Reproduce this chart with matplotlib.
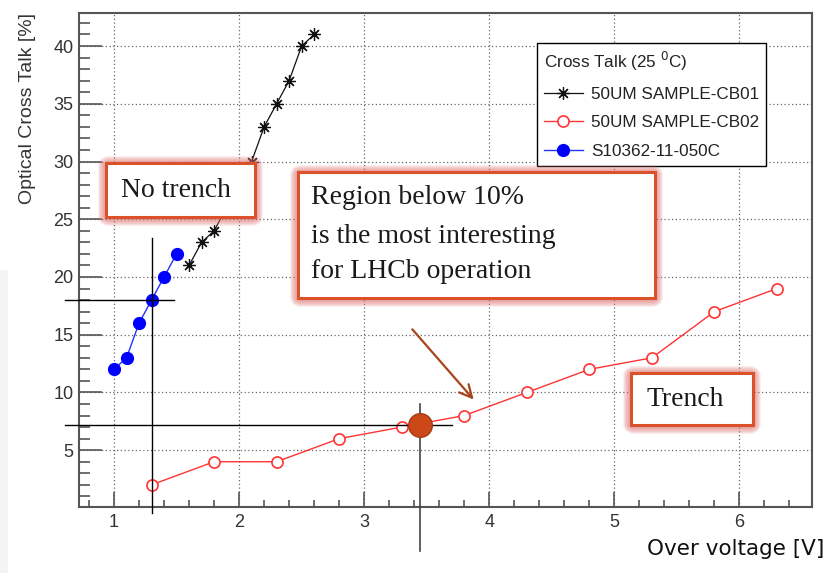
import matplotlib
matplotlib.use("Agg")
import matplotlib.pyplot as plt
from matplotlib.patches import FancyBboxPatch, Rectangle
from matplotlib.ticker import MultipleLocator

# ---- data -------------------------------------------------------------
cb01_voltage = [1.6, 1.7, 1.8, 1.9, 2.0, 2.1, 2.2, 2.3, 2.4, 2.5, 2.6]
cb01_crosstalk = [21, 23, 24, 26, 28, 30, 33, 35, 37, 40, 41]

cb02_voltage = [1.3, 1.8, 2.3, 2.8, 3.3, 3.8, 4.3, 4.8, 5.3, 5.8, 6.3]
cb02_crosstalk = [2, 4, 4, 6, 7, 8, 10, 12, 13, 17, 19]

s10362_voltage = [1.0, 1.1, 1.2, 1.3, 1.4, 1.5]
s10362_crosstalk = [12, 13, 16, 18, 20, 22]

series_labels = ["50UM SAMPLE-CB01", "50UM SAMPLE-CB02", "S10362-11-050C"]
legend_title = "Cross Talk (25 $^{0}$C)"

# operating points marked by crosshairs
no_trench_point = (1.3, 18.0)
trench_point = (3.45, 7.2)

W, H = 838, 573
SANS = ["Liberation Sans", "DejaVu Sans"]
SERIF = ["Liberation Serif", "DejaVu Serif"]


def fx(x):
    return x / W


def fy(y):
    return 1 - y / H


fig = plt.figure(figsize=(W / 100, H / 100), dpi=100)
fig.patch.set_facecolor("white")
fig.patches.append(Rectangle((0, 0), fx(8), fy(270), transform=fig.transFigure,
                             facecolor="#f3f3f3", edgecolor="none", zorder=0))

ax = fig.add_axes([fx(79), fy(507), fx(812 - 79), (507 - 13) / H])
ax.set_xlim(0.72, 6.58)
ax.set_ylim(0.08, 42.86)

ax.xaxis.set_major_locator(MultipleLocator(1))
ax.xaxis.set_minor_locator(MultipleLocator(0.2))
ax.yaxis.set_major_locator(MultipleLocator(5))
ax.yaxis.set_minor_locator(MultipleLocator(1))
ax.tick_params(axis="x", which="major", direction="in", length=11, width=1.2,
               color="#555555", labelsize=13, labelcolor="#333333", pad=5)
ax.tick_params(axis="x", which="minor", direction="in", length=5, width=1.2,
               color="#555555")
ax.tick_params(axis="y", which="major", direction="in", length=16.5, width=1.2,
               color="#555555", labelsize=13, labelcolor="#333333", pad=4)
ax.tick_params(axis="y", which="minor", direction="in", length=8, width=1.2,
               color="#555555")
for lab in ax.get_xticklabels() + ax.get_yticklabels():
    lab.set_family(SANS)
for sp in ax.spines.values():
    sp.set_color("#555555")
    sp.set_linewidth(1.5)
ax.grid(True, which="major", linestyle=(0, (1, 2)), color="#666666", linewidth=0.9)
ax.set_axisbelow(True)

# ---- series -----------------------------------------------------------
ax.plot(cb01_voltage, cb01_crosstalk, color="#111111", lw=0.9,
        marker=(8, 2, 0), ms=9, mew=0.9, mec="#111111",
        label=series_labels[0], zorder=3)
ax.plot(cb02_voltage, cb02_crosstalk, color="#ff3333", lw=1.0,
        marker="o", ms=8, mfc="white", mec="#ff3333", mew=1.2,
        label=series_labels[1], zorder=3)
ax.plot(s10362_voltage, s10362_crosstalk, color="#2233ff", lw=1.0,
        marker="o", ms=8.5, mfc="#0000ff", mec="#0000ff",
        label=series_labels[2], zorder=3)

# ---- crosshairs -------------------------------------------------------
ax.plot([0.61, 1.48], [no_trench_point[1]] * 2, color="black", lw=1.0,
        clip_on=False, zorder=4)
ax.plot([no_trench_point[0]] * 2, [23.4, -0.45], color="black", lw=1.0,
        clip_on=False, zorder=4)
ax.plot([0.61, 3.70], [trench_point[1]] * 2, color="black", lw=1.0,
        clip_on=False, zorder=4)
ax.plot([trench_point[0]] * 2, [9.0, -3.7], color="#444444", lw=1.2,
        clip_on=False, zorder=4)
ax.plot(*trench_point, marker="o", ms=17, color="#cc4818", mec="#a53a12",
        mew=1.0, zorder=6, clip_on=False)

# arrow pointing at the sub-10% region
ax.annotate("", xy=(3.89, 9.2), xytext=(3.37, 15.65),
            arrowprops=dict(arrowstyle="->,head_length=0.9,head_width=0.45",
                            color="#a8441c", lw=1.6), zorder=5)

# ---- legend -----------------------------------------------------------
leg = ax.legend(loc="upper left", bbox_to_anchor=(fx(537), fy(43)),
                bbox_transform=fig.transFigure, title=legend_title,
                prop={"family": SANS, "size": 12.3},
                title_fontproperties={"family": SANS, "size": 12.3},
                frameon=True, fancybox=False, edgecolor="black", framealpha=1,
                handlelength=2.3, handletextpad=0.45, labelspacing=0.8,
                borderpad=0.4, borderaxespad=0, alignment="left")
leg.get_frame().set_linewidth(1.0)
leg.set_zorder(7)
for t in leg.get_texts():
    t.set_color("#222222")
leg.get_title().set_color("#222222")

# ---- annotation boxes -------------------------------------------------


def glow_box(x0, y0, x1, y1):
    bx, by = fx(x0), fy(y1)
    bw, bh = fx(x1 - x0), (y1 - y0) / H
    for i in range(7, 0, -1):
        fig.patches.append(FancyBboxPatch(
            (bx, by - 1.0 / H), bw, bh, boxstyle="round,pad=0,rounding_size=0.004",
            transform=fig.transFigure, facecolor="none",
            edgecolor="#e07070", linewidth=2.0 + 1.35 * i, alpha=0.12,
            zorder=8))
    fig.patches.append(Rectangle((bx, by), bw, bh, transform=fig.transFigure,
                                 facecolor="white", edgecolor="#d9522a",
                                 linewidth=2.2, zorder=9))


TEXT_SIZE = 20
glow_box(106, 163, 255, 217)
fig.text(fx(121), fy(191), "No trench", family=SERIF, fontsize=TEXT_SIZE,
         color="#1a1a1a", va="center", ha="left", zorder=10)

glow_box(298, 172, 655, 298)
region_lines = ["Region below 10%", "is the most interesting", "for LHCb operation"]
for yy, line in zip([198, 236, 272], region_lines):
    fig.text(fx(311), fy(yy), line, family=SERIF, fontsize=TEXT_SIZE,
             color="#1a1a1a", va="center", ha="left", zorder=10)

glow_box(631, 373, 753, 425)
fig.text(fx(646), fy(400), "Trench", family=SERIF, fontsize=TEXT_SIZE,
         color="#1a1a1a", va="center", ha="left", zorder=10)

# ---- axis titles ------------------------------------------------------
fig.text(fx(27), fy(108), "Optical Cross Talk [%]", rotation=90,
         family=SANS, fontsize=14, color="#333333", ha="center", va="center")
fig.text(fx(736), fy(549), "Over voltage [V]", family=["DejaVu Sans"],
         fontsize=15.5, color="#111111", ha="center", va="center")

fig.savefig("out.png", dpi=100)
